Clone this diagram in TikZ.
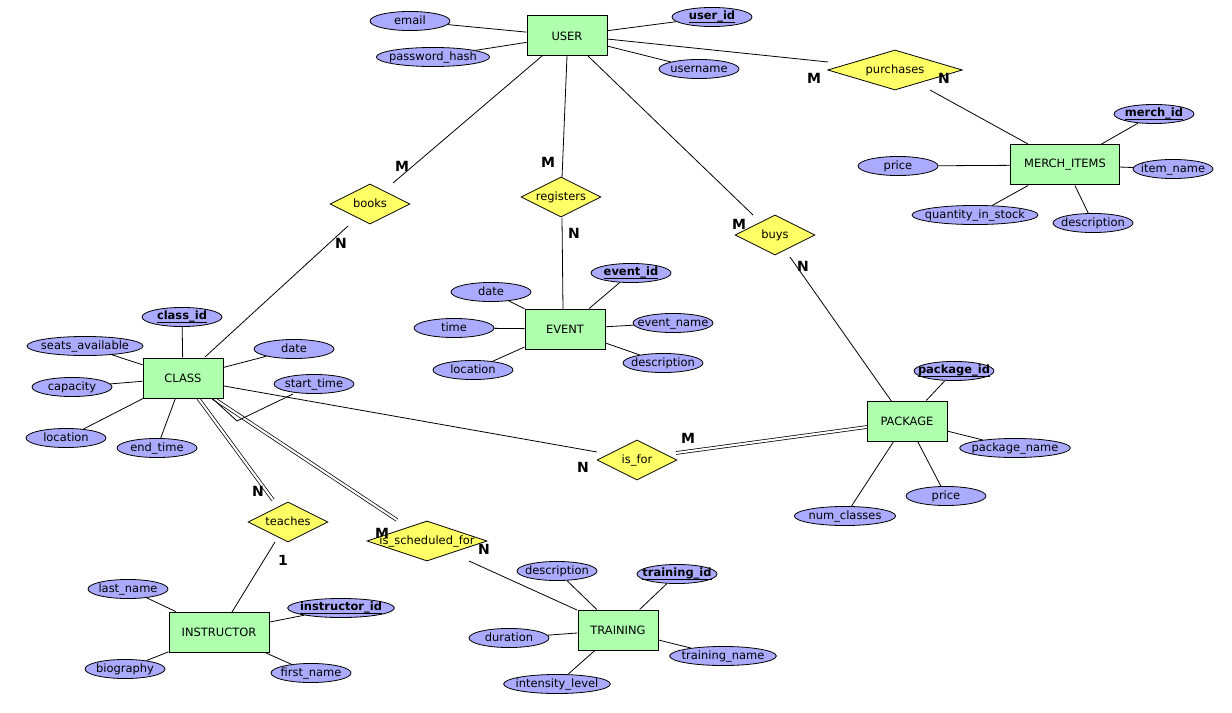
\documentclass[tikz,border=0pt]{standalone}
\usepackage{fontspec}
\setmainfont{DejaVu Sans}
\usetikzlibrary{shapes.geometric,calc,backgrounds}
\definecolor{entfill}{HTML}{AFFFAF}
\definecolor{attfill}{HTML}{AAAAFF}
\definecolor{relfill}{HTML}{FFFF66}
\newcommand\mkz[1]{\makebox[0pt]{\smash{#1}\rule[-0.2em]{0pt}{0.94em}}}
\newcommand\keyt[1]{\makebox[0pt]{\textbf{\underline{\smash{#1}}}\rule[-0.2em]{0pt}{0.94em}}}
\begin{document}
\begin{tikzpicture}[x=0.75pt,y=-0.75pt,
  every node/.style={font=\fontsize{8.6}{10}\selectfont},
  entity/.style={draw, line width=0.75pt, fill=entfill, minimum width=60pt, minimum height=30pt, inner sep=0pt},
  attr/.style={draw, line width=0.6pt, ellipse, fill=attfill, minimum width=60pt, minimum height=14.3pt, inner sep=0pt},
  rel/.style={draw, line width=0.6pt, diamond, fill=relfill, minimum width=60pt, minimum height=30pt, inner sep=0pt},
  conn/.style={line width=0.6pt},
  dconn/.style={line width=0.55pt, double, double distance=1.6pt},
  card/.style={font=\fontsize{10.5}{12}\selectfont\bfseries, inner sep=0pt},
]
\path[use as bounding box] (0,0) rectangle (1232,713);

% entities
\node[entity] (USER) at (567,36) {USER};
\node[entity, minimum width=82pt] (MERCH) at (1065,165) {MERCH\_ITEMS};
\node[entity] (EVENT) at (565,329) {EVENT};
\node[entity] (CLASS) at (183,378) {CLASS};
\node[entity] (PACKAGE) at (907,421) {PACKAGE};
\node[entity, minimum width=75pt] (INSTR) at (219,632) {INSTRUCTOR};
\node[entity] (TRAIN) at (618,630) {TRAINING};

% relationships
\node[rel] (books) at (370,204) {\mkz{books}};
\node[rel] (registers) at (561,197) {\mkz{registers}};
\node[rel] (buys) at (775,235) {\mkz{buys}};
\node[rel, minimum width=101pt] (purchases) at (895,70) {\mkz{purchases}};
\node[rel] (isfor) at (637,460) {\mkz{is\_for}};
\node[rel] (teaches) at (288,522) {\mkz{teaches}};
\node[rel, minimum width=90pt] (issched) at (427,541) {\mkz{is\_scheduled\_for}};

% USER attributes
\node[attr] (u_email) at (410,21) {\mkz{email}};
\node[attr, minimum width=85pt] (u_pw) at (433,57) {\mkz{password\_hash}};
\node[attr] (u_id) at (712,17) {\keyt{user\_id}};
\node[attr] (u_name) at (699,69) {\mkz{username}};
% MERCH attributes
\node[attr] (m_id) at (1154,114) {\keyt{merch\_id}};
\node[attr] (m_price) at (898,166) {\mkz{price}};
\node[attr] (m_item) at (1173,169) {\mkz{item\_name}};
\node[attr, minimum width=94.5pt] (m_qty) at (975,215) {\mkz{quantity\_in\_stock}};
\node[attr] (m_desc) at (1093,223) {\mkz{description}};
% EVENT attributes
\node[attr] (e_id) at (631,273) {\keyt{event\_id}};
\node[attr] (e_date) at (491,292) {\mkz{date}};
\node[attr] (e_time) at (454,328) {\mkz{time}};
\node[attr] (e_loc) at (473,370) {\mkz{location}};
\node[attr] (e_name) at (673,323) {\mkz{event\_name}};
\node[attr] (e_desc) at (663,363) {\mkz{description}};
% CLASS attributes
\node[attr] (c_id) at (182,317) {\keyt{class\_id}};
\node[attr, minimum width=87pt] (c_seats) at (85,346) {\mkz{seats\_available}};
\node[attr] (c_date) at (294,349) {\mkz{date}};
\node[attr] (c_cap) at (72,387) {\mkz{capacity}};
\node[attr] (c_start) at (314,384) {\mkz{start\_time}};
\node[attr] (c_loc) at (66,438) {\mkz{location}};
\node[attr] (c_end) at (157,448) {\mkz{end\_time}};
% PACKAGE attributes
\node[attr] (p_id) at (954,371) {\keyt{package\_id}};
\node[attr, minimum width=83pt] (p_name) at (1015,448) {\mkz{package\_name}};
\node[attr] (p_price) at (946,496) {\mkz{price}};
\node[attr, minimum width=76pt] (p_num) at (845,516) {\mkz{num\_classes}};
% INSTRUCTOR attributes
\node[attr] (i_last) at (128,589) {\mkz{last\_name}};
\node[attr, minimum width=80pt] (i_id) at (341,608) {\keyt{instructor\_id}};
\node[attr] (i_bio) at (125,669) {\mkz{biography}};
\node[attr] (i_first) at (311,673) {\mkz{first\_name}};
% TRAINING attributes
\node[attr] (t_desc) at (557,571) {\mkz{description}};
\node[attr] (t_id) at (677,574) {\keyt{training\_id}};
\node[attr] (t_dur) at (509,638) {\mkz{duration}};
\node[attr, minimum width=80pt] (t_name) at (723,656) {\mkz{training\_name}};
\node[attr, minimum width=80pt] (t_int) at (557,684) {\mkz{intensity\_level}};

% cardinalities
\node[card] (cb1) at (402,166) {M};
\node[card] (cb2) at (341,243) {N};
\node[card] (cr1) at (548,162) {M};
\node[card] (cr2) at (574,233) {N};
\node[card] (cy1) at (739,224) {M};
\node[card] (cy2) at (803,266) {N};
\node[card] (cp1) at (814,78) {M};
\node[card] (cp2) at (944,78) {N};
\node[card] (cf1) at (583,467) {N};
\node[card] (cf2) at (688,438) {M};
\node[card] (ct1) at (258,491) {N};
\node[card] (ct2) at (283,560) {1};
\node[card] (cs1) at (382,533) {M};
\node[card] (cs2) at (484,549) {N};

\begin{scope}[on background layer]
\fill[white] (0,0) rectangle (1232,713);
% relationship connectors
\draw[conn] ($(USER)+(-25,20)$) -- ($(books)+(23,-21)$);
\draw[conn] ($(USER)+(0,20)$) -- ($(registers)+(1,-19)$);
\draw[conn] ($(USER)+(21,20)$) -- ($(buys)+(-22,-20)$);
\draw[conn] ($(USER)+(40,3)$) -- ($(purchases)+(-67,-8)$);
\draw[conn] ($(purchases)+(35,20)$) -- ($(MERCH)+(-37,-21)$);
\draw[conn] ($(books)+(-22,22)$) -- ($(CLASS)+(22,-21)$);
\draw[conn] ($(registers)+(1,21)$) -- ($(EVENT)+(-2,-20)$);
\draw[conn] ($(buys)+(15,22)$) -- ($(PACKAGE)+(-15,-19)$);
\draw[conn] ($(CLASS)+(41,8)$) -- ($(isfor)+(-40,-8)$);
\draw[dconn] ($(isfor)+(39,-7)$) -- ($(PACKAGE)+(-40,6)$);
\draw[dconn] ($(CLASS)+(15,20)$) -- ($(teaches)+(-15,-22)$);
\draw[dconn] ($(CLASS)+(30,20)$) -- ($(issched)+(-30,-21)$);
\draw[conn] ($(teaches)+(-13,20)$) -- ($(INSTR)+(13,-20)$);
\draw[conn] ($(issched)+(42,20)$) -- ($(TRAIN)+(-41,-20)$);
% attribute connectors
\foreach \a in {u_email,u_pw,u_id,u_name} \draw[conn] (USER) -- (\a);
\foreach \a in {m_id,m_price,m_item,m_qty,m_desc} \draw[conn] (MERCH) -- (\a);
\foreach \a in {e_id,e_date,e_time,e_loc,e_name,e_desc} \draw[conn] (EVENT) -- (\a);
\foreach \a in {c_id,c_seats,c_date,c_cap,c_loc,c_end} \draw[conn] (CLASS) -- (\a);
\draw[conn] ($(CLASS)+(30,21)$) -- ($(CLASS)+(54,43)$) -- ($(c_start)+(-21,10)$);
\foreach \a in {p_id,p_name,p_price,p_num} \draw[conn] (PACKAGE) -- (\a);
\foreach \a in {i_last,i_id,i_bio,i_first} \draw[conn] (INSTR) -- (\a);
\foreach \a in {t_desc,t_id,t_dur,t_name,t_int} \draw[conn] (TRAIN) -- (\a);
\end{scope}
\end{tikzpicture}
\end{document}
